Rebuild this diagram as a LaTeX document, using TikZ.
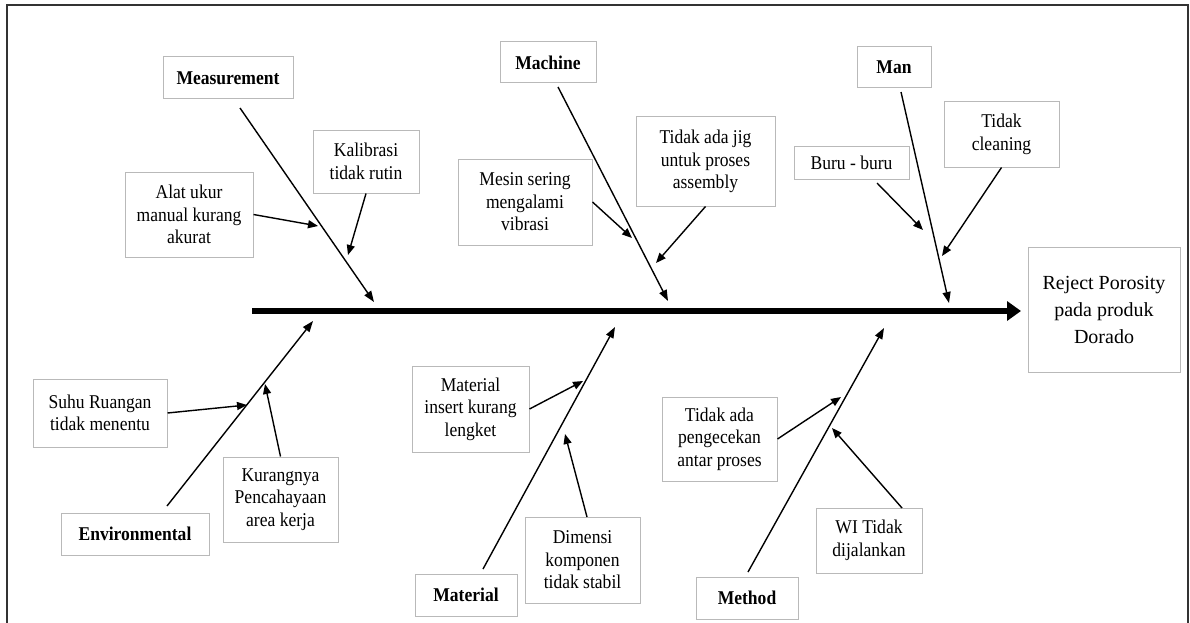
\documentclass[tikz,border=0pt]{standalone}
\usepackage{fontspec}
\setmainfont{Liberation Serif}
\newfontfamily\narrowfont[FakeStretch=0.9]{Liberation Serif}
\usetikzlibrary{arrows.meta}
\begin{document}
\begin{tikzpicture}[x=1pt,y=-1pt,
  box/.style={draw=gray!55, line width=1pt, align=center, inner sep=0pt,
    font=\narrowfont\fontsize{19.5}{22.5}\selectfont},
  cat/.style={box, font=\narrowfont\fontsize{19.5}{22.5}\selectfont\bfseries},
  eff/.style={box, font=\fontsize{20}{27}\selectfont},
  cause/.style={line width=1.4pt, -{Triangle[length=11pt,width=8pt]}},
  sub/.style={line width=1.4pt, -{Triangle[length=10pt,width=8pt]}},
  spine/.style={line width=5.5pt, -{Triangle[length=14pt,width=19pt]}}
]
\useasboundingbox (0,0) rectangle (1190,623);
% frame
\draw[line width=2pt, black!80] (6.5,623) -- (6.5,5) -- (1188,5) -- (1188,623);

% effect
\node[eff, minimum width=152pt, minimum height=125pt] (effect) at (1104,309.5) {Reject Porosity\\pada produk\\Dorado};

% spine
\coordinate (spA) at (252,311);
\coordinate (spB) at (1021,311);
\draw[spine] (spA) -- (spB);

% category boxes
\node[cat, minimum width=130pt, minimum height=42pt] (meas) at (228,78) {Measurement};
\node[cat, minimum width=96pt, minimum height=41pt] (mach) at (548,62.5) {Machine};
\node[cat, minimum width=74pt, minimum height=41pt] (man) at (894,67.5) {Man};
\node[cat, minimum width=148pt, minimum height=42pt] (env) at (135,534) {Environmental};
\node[cat, minimum width=102pt, minimum height=42pt] (mat) at (466,595) {Material};
\node[cat, minimum width=102pt, minimum height=42pt] (meth) at (747,598) {Method};

% cause boxes
\node[box, minimum width=128pt, minimum height=85pt] (alat) at (189,214.5) {Alat ukur\\manual kurang\\akurat};
\node[box, minimum width=106pt, minimum height=63pt] (kal) at (366,161.5) {Kalibrasi\\tidak rutin};
\node[box, minimum width=134pt, minimum height=86pt] (mesin) at (525,202) {Mesin sering\\mengalami\\vibrasi};
\node[box, minimum width=139pt, minimum height=89pt] (jig) at (705.5,161.5) {Tidak ada jig\\untuk proses\\assembly};
\node[box, minimum width=115pt, minimum height=33pt] (buru) at (851.5,162.5) {Buru - buru};
\node[box, minimum width=115pt, minimum height=65pt] (clean) at (1001.5,134.5) {Tidak\\cleaning};
\node[box, minimum width=134pt, minimum height=68pt] (suhu) at (100,413) {Suhu Ruangan\\tidak menentu};
\node[box, minimum width=115pt, minimum height=85pt] (kurang) at (280.5,499.5) {Kurangnya\\Pencahayaan\\area kerja};
\node[box, minimum width=117pt, minimum height=86pt] (insert) at (470.5,409) {Material\\insert kurang\\lengket};
\node[box, minimum width=115pt, minimum height=86pt] (dim) at (582.5,560) {Dimensi\\komponen\\tidak stabil};
\node[box, minimum width=115pt, minimum height=84pt] (cek) at (719.5,439) {Tidak ada\\pengecekan\\antar proses};
\node[box, minimum width=106pt, minimum height=65pt] (wi) at (869,540.5) {WI Tidak\\dijalankan};

% main bone coordinates
\coordinate (measS) at (240,108);  \coordinate (measT) at (374,302);
\coordinate (machS) at (558,87);   \coordinate (machT) at (668,301);
\coordinate (manS) at (901,92);    \coordinate (manT) at (949,303);
\coordinate (envS) at (167,506);   \coordinate (envT) at (313,321);
\coordinate (matS) at (483,569);   \coordinate (matT) at (615,327);
\coordinate (methS) at (748,572);  \coordinate (methT) at (884,328);

\draw[cause] (measS) -- (measT);
\draw[cause] (machS) -- (machT);
\draw[cause] (manS) -- (manT);
\draw[cause] (envS) -- (envT);
\draw[cause] (matS) -- (matT);
\draw[cause] (methS) -- (methT);

% sub-cause arrows
\coordinate (alatT) at (318,226);
\coordinate (kalT) at (348,255);
\coordinate (mesinT) at (632,238);
\coordinate (jigT) at (656,263);
\coordinate (buruS) at (877,183);  \coordinate (buruT) at (923,230);
\coordinate (cleanT) at (942,256);
\coordinate (suhuT) at (247,405);
\coordinate (kurangT) at (265,384);
\coordinate (insertT) at (583,381);
\coordinate (dimS) at (587,517);   \coordinate (dimT) at (565,434);
\coordinate (cekT) at (841,397);
\coordinate (wiS) at (902,508);    \coordinate (wiT) at (832,428);

\draw[sub] (alat.east) -- (alatT);
\draw[sub] (kal.south) -- (kalT);
\draw[sub] (mesin.east) -- (mesinT);
\draw[sub] (jig.south) -- (jigT);
\draw[sub] (buruS) -- (buruT);
\draw[sub] (clean.south) -- (cleanT);
\draw[sub] (suhu.east) -- (suhuT);
\draw[sub] (kurang.north) -- (kurangT);
\draw[sub] (insert.east) -- (insertT);
\draw[sub] (dimS) -- (dimT);
\draw[sub] (cek.east) -- (cekT);
\draw[sub] (wiS) -- (wiT);
\end{tikzpicture}
\end{document}
